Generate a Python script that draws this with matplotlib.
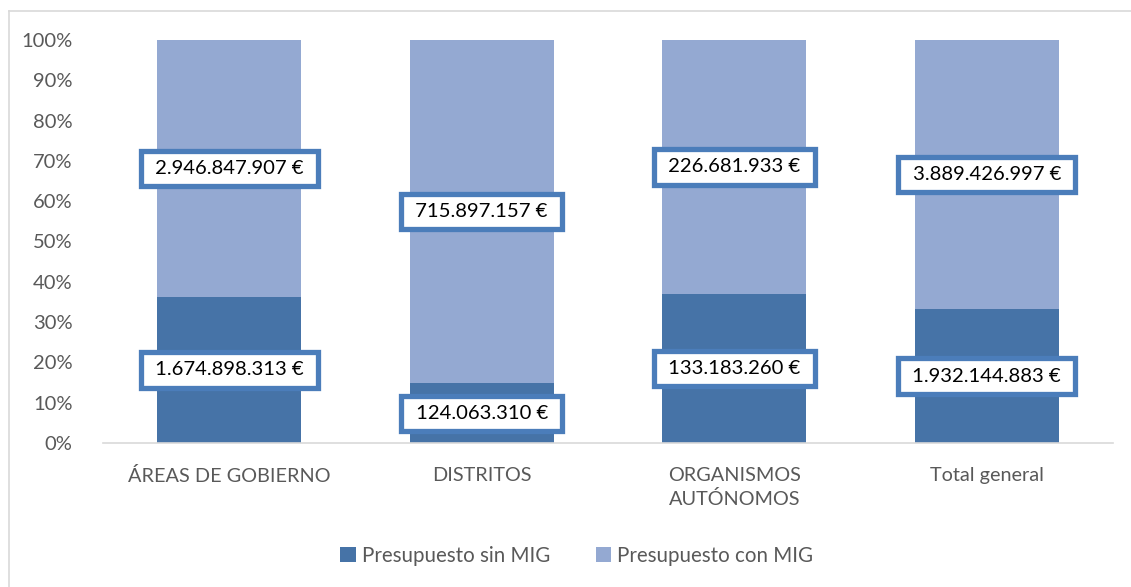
import matplotlib
matplotlib.use("Agg")
import matplotlib.pyplot as plt
import numpy as np

categories = ["ÁREAS DE GOBIERNO", "DISTRITOS", "ORGANISMOS\nAUTÓNOMOS", "Total general"]
sin_mig = [1674898313, 124063310, 133183260, 1932144883]
con_mig = [2946847907, 715897157, 226681933, 3889426997]
series_names = ["Presupuesto sin MIG", "Presupuesto con MIG"]
yticks = [0, 10, 20, 30, 40, 50, 60, 70, 80, 90, 100]

def fmt_eur(v):
    return f"{v:,}".replace(",", ".") + " €"

plt.rcParams['font.family'] = ['Lato', 'DejaVu Sans']

W, H = 1131, 587
fig = plt.figure(figsize=(W/100, H/100), dpi=100)
ax = fig.add_axes([103/W, 1-443/H, (1113-103)/W, (443-40)/H])

dark = "#4673A7"
light = "#94A9D2"
box_edge = "#4B7DBA"

sin = np.array(sin_mig, dtype=float)
con = np.array(con_mig, dtype=float)
tot = sin + con
p_sin = sin / tot * 100
p_con = con / tot * 100
x = np.arange(len(categories))
bw = 0.57
ax.bar(x, p_sin, bw, color=dark, label=series_names[0], zorder=2)
ax.bar(x, p_con, bw, bottom=p_sin, color=light, label=series_names[1], zorder=2)

bbox = dict(boxstyle="square,pad=0.45", fc="white", ec=box_edge, lw=3.8)
for i in range(len(categories)):
    ax.text(x[i], p_sin[i]/2, " " + fmt_eur(sin_mig[i]) + " ", ha="center", va="center",
            fontsize=14.6, color="black", bbox=bbox, zorder=5)
    ax.text(x[i], p_sin[i] + p_con[i]/2, " " + fmt_eur(con_mig[i]) + " ", ha="center", va="center",
            fontsize=14.6, color="black", bbox=dict(bbox), zorder=5)

ax.set_xlim(-0.5, len(categories)-0.5)
ax.set_ylim(0, 100)
ax.set_yticks(yticks)
ax.set_yticklabels([f"{t}%" for t in yticks], fontsize=14.5, color="#595959")
ax.set_xticks(x)
ax.set_xticklabels(categories, fontsize=14.3, color="#595959", linespacing=1.45)
ax.tick_params(axis="both", length=0)
ax.tick_params(axis="y", pad=22)
ax.tick_params(axis="x", pad=17)
for s in ["top", "right", "left"]:
    ax.spines[s].set_visible(False)
ax.spines["bottom"].set_color("#D9D9D9")
ax.spines["bottom"].set_linewidth(1.2)

leg = fig.legend(loc="center", bbox_to_anchor=(0.51, 1-556/H), ncol=2, frameon=False,
                 fontsize=14.8, handlelength=0.75, handleheight=0.75, handletextpad=0.3,
                 columnspacing=2.2)
for t in leg.get_texts():
    t.set_color("#595959")

# chart area border (left and top visible)
fig.add_artist(plt.Line2D([8.5/W, 8.5/W], [0, 1-10.5/H], transform=fig.transFigure, color="#D9D9D9", lw=1.2))
fig.add_artist(plt.Line2D([8.5/W, 1], [1-10.5/H, 1-10.5/H], transform=fig.transFigure, color="#D9D9D9", lw=1.2))

fig.savefig("out.png", dpi=100)
